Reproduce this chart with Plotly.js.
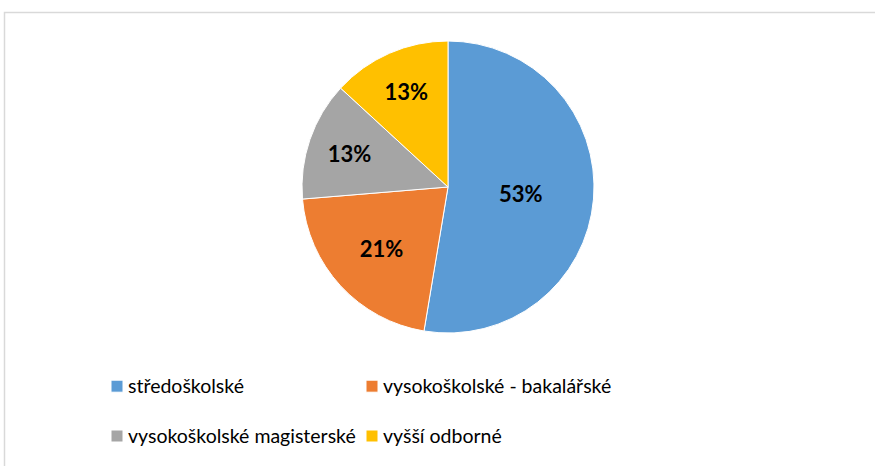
<!DOCTYPE html>
<html>
<head>
<meta charset="utf-8">
<script src="https://cdn.plot.ly/plotly-3.0.1.min.js"></script>
<style>
  html, body { margin: 0; padding: 0; background: #ffffff; }
  #chart { width: 875px; height: 466px; }
</style>
</head>
<body>
<div id="chart"></div>
<script>
// Data
const categories = ["středoškolské", "vysokoškolské - bakalářské", "vysokoškolské magisterské", "vyšší odborné"];
const counts = [20, 8, 5, 5];
const sliceColors = ["#5b9bd5", "#ed7d31", "#a5a5a5", "#ffc000"];

// second legend row gets a leading line break so rows are spaced like the reference
const legendLabels = categories.map((c, i) =>
  (i >= 2 ? "<br>" : "") + '<span style="font-size:19.5px">' + c + "</span>");

const L = 88, R = 187, T = 41, B = 133;
const W = 875, H = 466;
const pw = W - L - R, ph = H - T - B;
const px2x = p => (p - L) / pw;
const py2y = p => (H - B - p) / ph;

const trace = {
  type: "pie",
  labels: legendLabels,
  values: counts,
  sort: false,
  direction: "clockwise",
  rotation: 0,
  marker: { colors: sliceColors, line: { color: "#ffffff", width: 1 } },
  textinfo: "percent",
  texttemplate: "<b>%{percent:.0%}</b>",
  textposition: "inside",
  insidetextorientation: "horizontal",
  textfont: { family: "Lato, sans-serif", size: 22, color: "#000000" },
  domain: { x: [0.35, 0.85], y: [0, 1] },
  hoverinfo: "percent"
};

const layout = {
  width: W,
  height: H,
  margin: { l: L, r: R, t: T, b: B, autoexpand: false },
  paper_bgcolor: "#ffffff",
  plot_bgcolor: "#ffffff",
  font: { family: "Lato, sans-serif", color: "#000000" },
  showlegend: true,
  legend: {
    orientation: "h",
    x: 0,
    xanchor: "left",
    y: py2y(368),
    yanchor: "top",
    valign: "bottom",
    entrywidth: 210,
    traceorder: "normal",
    font: { family: "Lato, sans-serif", size: 18, color: "#000000" },
    bgcolor: "rgba(0,0,0,0)"
  },
  shapes: [{
    type: "rect",
    xref: "paper", yref: "paper",
    x0: px2x(4.5), x1: px2x(890),
    y0: py2y(480), y1: py2y(12.5),
    line: { color: "#d9d9d9", width: 1.5 },
    fillcolor: "rgba(0,0,0,0)",
    layer: "below"
  }]
};

Plotly.newPlot("chart", [trace], layout, { displayModeBar: false, staticPlot: true }).then(gd => {
  // let the long legend labels overflow their fixed column width instead of being clipped
  gd.querySelectorAll(".legend [clip-path]").forEach(el => el.removeAttribute("clip-path"));
  // sit the colour squares close to their labels, as in the reference
  gd.querySelectorAll(".legend .legendsymbols").forEach(el => el.setAttribute("transform", "translate(9,0)"));
});
</script>
</body>
</html>
